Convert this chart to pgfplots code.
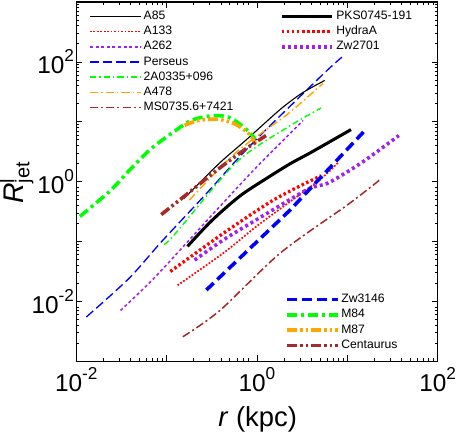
\documentclass[border=0pt]{standalone}
\usepackage{fontspec}
\setmainfont{Liberation Sans}
\usepackage{pgfplots}
\pgfplotsset{compat=1.18}

\definecolor{cred}{RGB}{255,0,0}
\definecolor{cblue}{RGB}{0,0,255}
\definecolor{cpurple}{RGB}{160,32,240}
\definecolor{cgreen}{RGB}{0,255,0}
\definecolor{corange}{RGB}{255,165,0}
\definecolor{cbrown}{RGB}{165,42,42}

% 10 with a raised exponent, as in the original tick labels
\newcommand{\tenp}[1]{10\raisebox{11.5pt}{\fontsize{17}{17}\selectfont #1}}

\pgfplotsset{
  legend image code/.code={\draw[#1] (0pt,0pt) -- (50pt,0pt);},
  every axis legend/.append style={draw=none, fill=none, inner sep=0pt, anchor=north west,
      font=\fontsize{12}{14}\selectfont, row sep=0pt,
      nodes={text height=8.5pt, text depth=2.5pt, inner sep=2pt}},
}

\begin{document}
\begin{tikzpicture}
% thin lines, left legend
\begin{axis}[
    width=356pt, height=354pt, scale only axis,
    xmode=log, ymode=log,
    xmin=1e-2, xmax=1e2, ymin=1e-3, ymax=1e3,
    legend cell align=left,
    axis line style={line width=1.5pt},
    tick align=inside, major tick length=6pt, minor tick length=3pt,
    every tick/.style={black, line width=0.8pt},
    xtick={0.01,0.1,1,10,100},
    xticklabels={\tenp{-2},,\tenp{0},,\tenp{2}},
    minor xtick={0.02,0.03,...,0.09,0.2,0.3,...,0.9,2,3,...,9,20,30,...,90},
    ytick={0.01,1,100},
    yticklabels={\tenp{-2},\tenp{0},\tenp{2}},
    extra y ticks={0.001,0.1,10,1000},
    extra y tick style={yticklabel=\empty, tick label style={inner sep=0pt}},
    minor ytick={0.002,0.003,...,0.009,0.02,0.03,...,0.09,0.2,0.3,...,0.9,2,3,...,9,20,30,...,90,200,300,...,900},
    tick label style={font=\fontsize{24}{26}\selectfont},
    xticklabel style={inner sep=2pt, yshift=-4pt},
    yticklabel style={inner sep=2pt},
    xlabel={\textit{r} (kpc)},
    ylabel={\textit{R}\rlap{\textsuperscript{l}}\textsubscript{jet}},
    every axis x label/.style={at={(rel axis cs:0.502,-0.181)}, anchor=base,
      inner sep=0pt, font=\fontsize{27}{29}\selectfont},
    every axis y label/.style={at={(rel axis cs:-0.146,0.497)}, anchor=base,
      rotate=90, inner sep=0pt, font=\fontsize{28}{30}\selectfont},
    legend style={at={(0.035,0.982)}},
]
\addplot[cblue, line width=1.3pt, smooth, dash pattern=on 9pt off 4pt, forget plot] coordinates {
  (0.0129,0.0055)(0.038,0.024)(0.0891,0.102)(0.275,0.631)(0.646,2.63)(1.41,8.71)(5.62,66.1)(8.71,120)};
\addplot[black, line width=1.1pt, smooth] coordinates {
  (0.155,0.525)(0.214,0.851)(0.398,2.14)(0.776,5.13)(1.82,16.2)(3.16,30.2)(5.62,49.0)};
\addlegendentry{A85}
\addplot[color=cred, line width=1.7pt, smooth, dash pattern=on 1.7pt off 1.7pt] coordinates {
  (0.132,0.0186)(0.427,0.0646)(1.0,0.182)(2.82,0.575)(5.13,1.12)(7.94,2.09)};
\addlegendentry{A133}
\addplot[color=cpurple, line width=1.5pt, smooth, dash pattern=on 3pt off 2.5pt] coordinates {
  (0.0309,0.00708)(0.0759,0.0263)(0.316,0.275)(1.0,1.78)(3.24,10.5)};
\addlegendentry{A262}
\addlegendimage{color=cblue, line width=1.3pt, dash pattern=on 9pt off 4pt}
\addlegendentry{Perseus}
\addplot[color=cgreen, line width=1.4pt, smooth, dash pattern=on 6pt off 3pt on 1.5pt off 3pt] coordinates {
  (0.0933,0.0891)(0.126,0.138)(0.589,2.09)(2.19,8.13)(5.13,17.0)};
\addlegendentry{2A0335+096}
\addplot[color=corange, line width=1.4pt, smooth, dash pattern=on 8pt off 3pt on 1.5pt off 3pt] coordinates {
  (0.178,0.490)(0.589,3.09)(2.19,13.5)(5.37,43.7)};
\addlegendentry{A478}
\addplot[color=cbrown, line width=1.5pt, smooth, dash pattern=on 8pt off 3pt on 2pt off 3pt] coordinates {
  (0.151,0.00257)(0.389,0.00708)(1.82,0.0646)(10.2,0.417)(23.4,1.10)};
\addlegendentry{MS0735.6+7421}
\end{axis}

% thick lines, top-right legend
\begin{axis}[
    width=356pt, height=354pt, scale only axis, hide axis,
    xmode=log, ymode=log,
    xmin=1e-2, xmax=1e2, ymin=1e-3, ymax=1e3,
    legend cell align=left,
    legend style={at={(0.563,0.982)}},
]
\addplot[black, line width=3pt, smooth] coordinates {
  (0.170,0.0832)(0.316,0.224)(0.646,0.575)(1.26,1.12)(2.34,2.0)(3.98,3.09)(11.0,7.41)};
\addlegendentry{PKS0745-191}
\addplot[color=cred, line width=3.2pt, smooth, dash pattern=on 2.5pt off 2.5pt] coordinates {
  (0.110,0.0316)(0.427,0.138)(1.55,0.501)(5.13,1.26)};
\addlegendentry{HydraA}
\addplot[color=cpurple, line width=3.5pt, smooth, dash pattern=on 3pt off 3pt] coordinates {
  (0.204,0.0490)(0.427,0.107)(1.0,0.234)(3.63,0.741)(6.17,0.955)(14.5,2.09)(37.2,5.89)};
\addlegendentry{Zw2701}
\end{axis}

% thick lines, bottom-right legend
\begin{axis}[
    width=356pt, height=354pt, scale only axis, hide axis,
    xmode=log, ymode=log,
    xmin=1e-2, xmax=1e2, ymin=1e-3, ymax=1e3,
    legend cell align=left,
    legend style={at={(0.577,0.1935)}},
]
\addplot[color=cblue, line width=3.5pt, dash pattern=on 10pt off 5pt] coordinates {
  (0.275,0.0155)(2.34,0.339)(15.1,6.76)};
\addlegendentry{Zw3146}
\addplot[color=cgreen, line width=3.5pt, smooth, dash pattern=on 10pt off 4pt on 3pt off 4pt] coordinates {
  (0.01096,0.263)(0.0234,0.692)(0.0398,1.62)(0.0661,3.47)(0.112,6.31)(0.186,10.5)(0.316,12.6)(0.479,12.0)(0.676,8.71)(0.891,5.89)(0.955,5.13)};
\addlegendentry{M84}
\addplot[color=corange, line width=3.5pt, smooth, dash pattern=on 10pt off 3pt on 2.5pt off 3pt on 2.5pt off 3pt] coordinates {
  (0.158,8.71)(0.224,10.5)(0.372,11.0)(0.575,9.12)(0.813,6.31)(0.966,4.27)};
\addlegendentry{M87}
\addplot[color=cbrown, line width=3.5pt, smooth, dash pattern=on 10pt off 3pt on 2.5pt off 3pt on 2.5pt off 3pt] coordinates {
  (0.0871,0.282)(0.174,0.646)(0.372,1.62)(0.741,3.47)(1.26,5.89)};
\addlegendentry{Centaurus}
\end{axis}
\end{tikzpicture}
\end{document}
